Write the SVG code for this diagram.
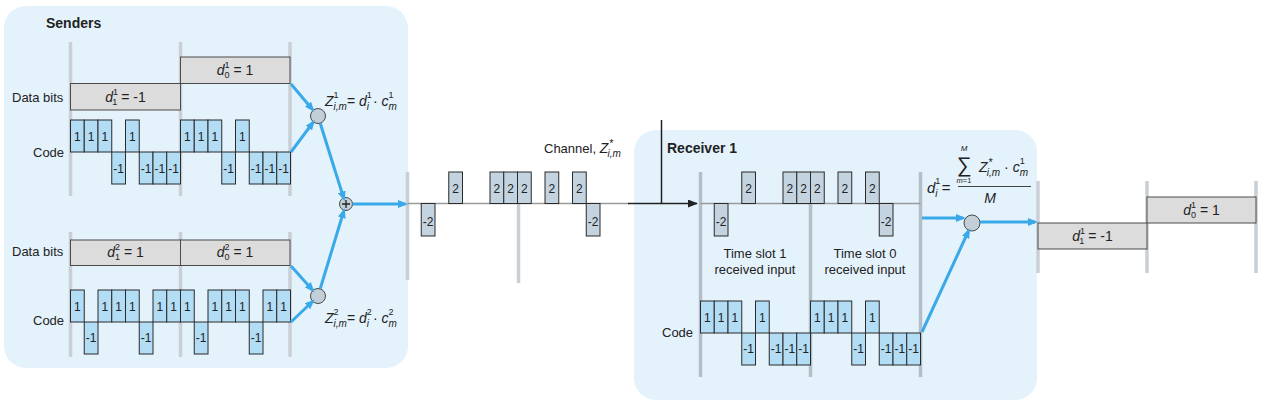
<svg xmlns="http://www.w3.org/2000/svg" width="1264" height="410" viewBox="0 0 1264 410">
<style>
.t{font-family:"Liberation Sans",Arial,sans-serif;fill:#222}
.b{font-weight:bold;font-size:14px}
.lb{font-size:13px}
.n{font-size:12px;text-anchor:middle}
.fi{font-style:italic}
.gl{stroke:#c9cfd4;stroke-width:3.5}
.gr{stroke:#b4bec6;stroke-width:3.5}
.chip{fill:#b3dcf5;stroke:#2b2b2b;stroke-width:1}
.ch{fill:#c3d3df;stroke:#2b2b2b;stroke-width:1}
.db{fill:#dcdcdc;stroke:#4a4a4a;stroke-width:1}
.ar{stroke:#3aa9ea;stroke-width:3;fill:none;marker-end:url(#ah)}
.circ{fill:#c2ced8;stroke:#4a4a4a;stroke-width:1}
.base{stroke:#9a9a9a;stroke-width:1.5}
</style>
<defs>
<marker id="ah" viewBox="0 0 10 8" refX="7" refY="4" markerWidth="10" markerHeight="8" markerUnits="userSpaceOnUse" orient="auto">
<path d="M0,0 L10,4 L0,8 Z" fill="#3aa9ea"/>
</marker>
<marker id="ahd" viewBox="0 0 10 8" refX="9" refY="4" markerWidth="10" markerHeight="8" markerUnits="userSpaceOnUse" orient="auto">
<path d="M0,0 L10,4 L0,8 Z" fill="#222"/>
</marker>
</defs>

<g id="senders-panel">
<rect x="4" y="6" width="404" height="362" rx="22" fill="#e4f2fc"/>
<text class="t b" x="46" y="28">Senders</text>
</g>

<g id="receiver-panel">
<rect x="634" y="130" width="403" height="270" rx="22" fill="#e4f2fc"/>
<text class="t b" x="667" y="153">Receiver 1</text>
</g>

<g id="sender1">
<line class="gl" x1="70.5" y1="42" x2="70.5" y2="196"/>
<line class="gl" x1="180.5" y1="42" x2="180.5" y2="196"/>
<line class="gl" x1="290" y1="42" x2="290" y2="196"/>
<text class="t lb" x="12" y="102">Data bits</text>
<text class="t lb" x="33" y="157">Code</text>
<rect class="db" x="70.5" y="83.5" width="110" height="26.5"/>
<rect class="db" x="180.5" y="57" width="109.5" height="26.5"/>
<text class="t" x="125.5" y="102" text-anchor="middle" font-size="14"><tspan class="fi">d</tspan><tspan font-size="9" dy="-7">1</tspan><tspan font-size="9" dx="-5" dy="10">1</tspan><tspan dy="-3"> = -1</tspan></text>
<text class="t" x="235" y="75" text-anchor="middle" font-size="14"><tspan class="fi">d</tspan><tspan font-size="9" dy="-7">1</tspan><tspan font-size="9" dx="-5" dy="10">0</tspan><tspan dy="-3"> = 1</tspan></text>
<g class="chip">
<rect x="70.5" y="120" width="13.75" height="32"/>
<rect x="84.25" y="120" width="13.75" height="32"/>
<rect x="98" y="120" width="13.75" height="32"/>
<rect x="111.75" y="152" width="13.75" height="32"/>
<rect x="125.5" y="120" width="13.75" height="32"/>
<rect x="139.25" y="152" width="13.75" height="32"/>
<rect x="153" y="152" width="13.75" height="32"/>
<rect x="166.75" y="152" width="13.75" height="32"/>
<rect x="180.5" y="120" width="13.75" height="32"/>
<rect x="194.25" y="120" width="13.75" height="32"/>
<rect x="208" y="120" width="13.75" height="32"/>
<rect x="221.75" y="152" width="13.75" height="32"/>
<rect x="235.5" y="120" width="13.75" height="32"/>
<rect x="249.25" y="152" width="13.75" height="32"/>
<rect x="263" y="152" width="13.75" height="32"/>
<rect x="276.75" y="152" width="13.75" height="32"/>
</g>
<g class="t n">
<text x="77.4" y="141">1</text><text x="91.1" y="141">1</text><text x="104.9" y="141">1</text><text x="118.6" y="173">-1</text>
<text x="132.4" y="141">1</text><text x="146.1" y="173">-1</text><text x="159.9" y="173">-1</text><text x="173.6" y="173">-1</text>
<text x="187.4" y="141">1</text><text x="201.1" y="141">1</text><text x="214.9" y="141">1</text><text x="228.6" y="173">-1</text>
<text x="242.4" y="141">1</text><text x="256.1" y="173">-1</text><text x="269.9" y="173">-1</text><text x="283.6" y="173">-1</text>
</g>
</g>

<g id="sender2">
<line class="gl" x1="70.5" y1="232" x2="70.5" y2="357"/>
<line class="gl" x1="180.5" y1="232" x2="180.5" y2="357"/>
<line class="gl" x1="290" y1="232" x2="290" y2="357"/>
<text class="t lb" x="12" y="256">Data bits</text>
<text class="t lb" x="33" y="325">Code</text>
<rect class="db" x="70.5" y="240" width="110" height="25.5"/>
<rect class="db" x="180.5" y="240" width="109.5" height="25.5"/>
<text class="t" x="125.5" y="257" text-anchor="middle" font-size="14"><tspan class="fi">d</tspan><tspan font-size="9" dy="-7">2</tspan><tspan font-size="9" dx="-5" dy="10">1</tspan><tspan dy="-3"> = 1</tspan></text>
<text class="t" x="235" y="257" text-anchor="middle" font-size="14"><tspan class="fi">d</tspan><tspan font-size="9" dy="-7">2</tspan><tspan font-size="9" dx="-5" dy="10">0</tspan><tspan dy="-3"> = 1</tspan></text>
<g class="chip">
<rect x="70.5" y="290" width="13.75" height="32"/>
<rect x="84.25" y="322" width="13.75" height="32"/>
<rect x="98" y="290" width="13.75" height="32"/>
<rect x="111.75" y="290" width="13.75" height="32"/>
<rect x="125.5" y="290" width="13.75" height="32"/>
<rect x="139.25" y="322" width="13.75" height="32"/>
<rect x="153" y="290" width="13.75" height="32"/>
<rect x="166.75" y="290" width="13.75" height="32"/>
<rect x="180.5" y="290" width="13.75" height="32"/>
<rect x="194.25" y="322" width="13.75" height="32"/>
<rect x="208" y="290" width="13.75" height="32"/>
<rect x="221.75" y="290" width="13.75" height="32"/>
<rect x="235.5" y="290" width="13.75" height="32"/>
<rect x="249.25" y="322" width="13.75" height="32"/>
<rect x="263" y="290" width="13.75" height="32"/>
<rect x="276.75" y="290" width="13.75" height="32"/>
</g>
<g class="t n">
<text x="77.4" y="311">1</text><text x="91.1" y="342">-1</text><text x="104.9" y="311">1</text><text x="118.6" y="311">1</text>
<text x="132.4" y="311">1</text><text x="146.1" y="342">-1</text><text x="159.9" y="311">1</text><text x="173.6" y="311">1</text>
<text x="187.4" y="311">1</text><text x="201.1" y="342">-1</text><text x="214.9" y="311">1</text><text x="228.6" y="311">1</text>
<text x="242.4" y="311">1</text><text x="256.1" y="342">-1</text><text x="269.9" y="311">1</text><text x="283.6" y="311">1</text>
</g>
</g>

<g id="mult1">
<circle class="circ" cx="318" cy="116" r="7.5"/>
<text class="t" x="325" y="106" font-size="14"><tspan class="fi">Z</tspan><tspan font-size="9" dy="-8">1</tspan><tspan class="fi" font-size="10" dx="-5" dy="12">i,m</tspan><tspan dy="-4">= </tspan><tspan class="fi">d</tspan><tspan font-size="9" dy="-8">1</tspan><tspan class="fi" font-size="10" dx="-5" dy="12">i</tspan><tspan dy="-4"> · </tspan><tspan class="fi">c</tspan><tspan font-size="9" dy="-8">1</tspan><tspan class="fi" font-size="10" dx="-5" dy="12">m</tspan></text>
</g>

<g id="mult2">
<circle class="circ" cx="318" cy="296" r="7.5"/>
<text class="t" x="325" y="323" font-size="14"><tspan class="fi">Z</tspan><tspan font-size="9" dy="-8">2</tspan><tspan class="fi" font-size="10" dx="-5" dy="12">i,m</tspan><tspan dy="-4">= </tspan><tspan class="fi">d</tspan><tspan font-size="9" dy="-8">2</tspan><tspan class="fi" font-size="10" dx="-5" dy="12">i</tspan><tspan dy="-4"> · </tspan><tspan class="fi">c</tspan><tspan font-size="9" dy="-8">2</tspan><tspan class="fi" font-size="10" dx="-5" dy="12">m</tspan></text>
</g>

<g id="adder">
<circle class="circ" cx="346" cy="204" r="6.5"/>
<path d="M342,204 H350 M346,200 V208" stroke="#222" stroke-width="1.3"/>
</g>

<g id="channel">
<line class="gl" x1="407.5" y1="172" x2="407.5" y2="280"/>
<line class="gl" x1="518.5" y1="172" x2="518.5" y2="283"/>
<line class="base" x1="407.5" y1="203.5" x2="629" y2="203.5"/>
<g class="ch">
<rect x="421.25" y="203.5" width="13.75" height="32.5"/>
<rect x="448.75" y="172" width="13.75" height="31.5"/>
<rect x="490" y="172" width="13.75" height="31.5"/>
<rect x="503.75" y="172" width="13.75" height="31.5"/>
<rect x="517.5" y="172" width="13.75" height="31.5"/>
<rect x="545" y="172" width="13.75" height="31.5"/>
<rect x="572.5" y="172" width="13.75" height="31.5"/>
<rect x="586.25" y="203.5" width="13.75" height="32.5"/>
</g>
<g class="t n">
<text x="428.1" y="226">-2</text><text x="455.6" y="193">2</text><text x="496.9" y="193">2</text><text x="510.6" y="193">2</text>
<text x="524.4" y="193">2</text><text x="551.9" y="193">2</text><text x="579.4" y="193">2</text><text x="593.1" y="226">-2</text>
</g>
<text class="t" x="544" y="153" font-size="13">Channel, <tspan class="fi" font-size="14">Z</tspan><tspan font-size="11" dx="1" dy="-6">*</tspan><tspan class="fi" font-size="10" dx="-6" dy="10">i,m</tspan></text>
</g>

<g id="receiver">
<line class="gr" x1="700.5" y1="172" x2="700.5" y2="377"/>
<line class="gr" x1="810.5" y1="172" x2="810.5" y2="377"/>
<line class="gr" x1="920.5" y1="172" x2="920.5" y2="377"/>
<line class="base" x1="700.5" y1="203.5" x2="920.5" y2="203.5"/>
<g class="ch">
<rect x="714.25" y="203.5" width="13.75" height="32.5"/>
<rect x="741.75" y="172" width="13.75" height="31.5"/>
<rect x="783" y="172" width="13.75" height="31.5"/>
<rect x="796.75" y="172" width="13.75" height="31.5"/>
<rect x="810.5" y="172" width="13.75" height="31.5"/>
<rect x="838" y="172" width="13.75" height="31.5"/>
<rect x="865.5" y="172" width="13.75" height="31.5"/>
<rect x="879.25" y="203.5" width="13.75" height="32.5"/>
</g>
<g class="t n">
<text x="721.1" y="226">-2</text><text x="748.6" y="193">2</text><text x="789.9" y="193">2</text><text x="803.6" y="193">2</text>
<text x="817.4" y="193">2</text><text x="844.9" y="193">2</text><text x="872.4" y="193">2</text><text x="886.1" y="226">-2</text>
</g>
<g class="t lb" text-anchor="middle">
<text x="755" y="258">Time slot 1</text>
<text x="755" y="274">received input</text>
<text x="865" y="258">Time slot 0</text>
<text x="865" y="274">received input</text>
</g>
<text class="t lb" x="662" y="337">Code</text>
<g class="chip">
<rect x="700.5" y="301" width="13.75" height="32"/>
<rect x="714.25" y="301" width="13.75" height="32"/>
<rect x="728" y="301" width="13.75" height="32"/>
<rect x="741.75" y="333" width="13.75" height="32"/>
<rect x="755.5" y="301" width="13.75" height="32"/>
<rect x="769.25" y="333" width="13.75" height="32"/>
<rect x="783" y="333" width="13.75" height="32"/>
<rect x="796.75" y="333" width="13.75" height="32"/>
<rect x="810.5" y="301" width="13.75" height="32"/>
<rect x="824.25" y="301" width="13.75" height="32"/>
<rect x="838" y="301" width="13.75" height="32"/>
<rect x="851.75" y="333" width="13.75" height="32"/>
<rect x="865.5" y="301" width="13.75" height="32"/>
<rect x="879.25" y="333" width="13.75" height="32"/>
<rect x="893" y="333" width="13.75" height="32"/>
<rect x="906.75" y="333" width="13.75" height="32"/>
</g>
<g class="t n">
<text x="707.4" y="322">1</text><text x="721.1" y="322">1</text><text x="734.9" y="322">1</text><text x="748.6" y="353">-1</text>
<text x="762.4" y="322">1</text><text x="776.1" y="353">-1</text><text x="789.9" y="353">-1</text><text x="803.6" y="353">-1</text>
<text x="817.4" y="322">1</text><text x="831.1" y="322">1</text><text x="844.9" y="322">1</text><text x="858.6" y="353">-1</text>
<text x="872.4" y="322">1</text><text x="886.1" y="353">-1</text><text x="899.9" y="353">-1</text><text x="913.6" y="353">-1</text>
</g>
</g>

<g id="decoder">
<circle class="circ" cx="972" cy="223" r="8"/>
<text class="t" x="927" y="193" font-size="15"><tspan class="fi">d</tspan><tspan font-size="9" dy="-9">1</tspan><tspan class="fi" font-size="10" dx="-5" dy="13">i</tspan><tspan dy="-4"> =</tspan></text>
<text class="t fi" x="964" y="151" font-size="8" text-anchor="middle">M</text>
<text class="t" x="964" y="172" font-size="21" text-anchor="middle">∑</text>
<text class="t" x="964" y="183" font-size="7.5" text-anchor="middle"><tspan class="fi">m</tspan>=1</text>
<text class="t" x="979" y="172" font-size="14"><tspan class="fi">Z</tspan><tspan font-size="11" dx="1" dy="-6">*</tspan><tspan class="fi" font-size="10" dx="-6" dy="10">i,m</tspan><tspan dy="-4"> · </tspan><tspan class="fi">c</tspan><tspan font-size="9" dy="-8">1</tspan><tspan class="fi" font-size="10" dx="-5" dy="12">m</tspan></text>
<line x1="958" y1="186.5" x2="1031" y2="186.5" stroke="#444" stroke-width="1"/>
<text class="t fi" x="990" y="203" font-size="14" text-anchor="middle">M</text>
</g>

<g id="output">
<line class="gl" x1="1038" y1="181" x2="1038" y2="273"/>
<line class="gl" x1="1147" y1="181" x2="1147" y2="273"/>
<line class="gl" x1="1256" y1="181" x2="1256" y2="273"/>
<rect class="db" x="1038" y="223" width="109" height="26"/>
<rect class="db" x="1147" y="197" width="109" height="26"/>
<text class="t" x="1092.5" y="241" text-anchor="middle" font-size="14"><tspan class="fi">d</tspan><tspan font-size="9" dy="-7">1</tspan><tspan font-size="9" dx="-5" dy="10">1</tspan><tspan dy="-3"> = -1</tspan></text>
<text class="t" x="1201.5" y="215" text-anchor="middle" font-size="14"><tspan class="fi">d</tspan><tspan font-size="9" dy="-7">1</tspan><tspan font-size="9" dx="-5" dy="10">0</tspan><tspan dy="-3"> = 1</tspan></text>
</g>

<g id="connectors">
<line class="ar" x1="291" y1="84" x2="312.5" y2="109.5"/>
<line class="ar" x1="291" y1="152" x2="313" y2="122.5"/>
<line class="ar" x1="320.3" y1="123.5" x2="343.8" y2="198.5"/>
<line class="ar" x1="291" y1="266" x2="312.5" y2="290"/>
<line class="ar" x1="291" y1="322" x2="312.5" y2="301.5"/>
<line class="ar" x1="320.3" y1="288.5" x2="343.8" y2="211"/>
<line class="ar" x1="352.5" y1="204" x2="405" y2="204"/>
<line x1="628" y1="203.5" x2="697" y2="203.5" stroke="#222" stroke-width="1.5" marker-end="url(#ahd)"/>
<line x1="661.5" y1="120" x2="661.5" y2="203.5" stroke="#222" stroke-width="1.5"/>
<line class="ar" x1="922" y1="218" x2="963" y2="218"/>
<line class="ar" x1="980" y1="222" x2="1035" y2="222"/>
<line class="ar" x1="922" y1="332" x2="968.5" y2="231"/>
</g>
</svg>
